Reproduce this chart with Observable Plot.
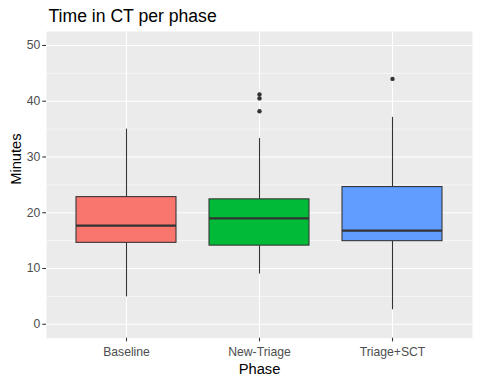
<!DOCTYPE html>
<html>
<head>
<meta charset="utf-8">
<script src="https://cdn.jsdelivr.net/npm/d3@7"></script>
<script src="https://cdn.jsdelivr.net/npm/@observablehq/plot@0.6"></script>
<style>
  html, body { margin: 0; padding: 0; background: #ffffff; }
  #chart { width: 480px; height: 384px; }
</style>
</head>
<body>
<div id="chart"></div>
<script>
const phases = ["Baseline", "New-Triage", "Triage+SCT"];
const colors = ["#F8766D", "#00BA38", "#619CFF"];
const whiskerLow = [4.9, 9.0, 2.6];
const q1 = [14.6, 14.1, 14.9];
const median = [17.7, 19.0, 16.8];
const q3 = [22.8, 22.4, 24.6];
const whiskerHigh = [35.0, 33.3, 37.1];
const outlierPhase = ["New-Triage", "New-Triage", "New-Triage", "Triage+SCT"];
const outlierValue = [38.2, 40.5, 41.2, 44.0];
const yMajor = [0, 10, 20, 30, 40, 50];
const yMinor = [5, 15, 25, 35, 45];

const boxes = phases.map((p, i) => ({
  phase: p, lo: whiskerLow[i], q1: q1[i], med: median[i], q3: q3[i], hi: whiskerHigh[i]
}));
const outliers = outlierPhase.map((p, i) => ({phase: p, value: outlierValue[i]}));

const font = "Arial, 'Liberation Sans', sans-serif";

const chart = Plot.plot({
  width: 480,
  height: 384,
  marginTop: 31,
  marginBottom: 46.3,
  marginLeft: 46,
  marginRight: 8,
  style: {fontFamily: font, fontSize: "12.2px", background: "#ffffff", overflow: "visible"},
  x: {type: "band", domain: phases, paddingInner: 0.25, paddingOuter: 0.225, align: 0.5, axis: null, label: null},
  y: {domain: [-2.5, 52.5], axis: null, label: null},
  color: {domain: phases, range: colors},
  marks: [
    Plot.frame({fill: "#EBEBEB", stroke: null}),
    Plot.ruleY(yMinor, {stroke: "#ffffff", strokeWidth: 0.55}),
    Plot.ruleY(yMajor, {stroke: "#ffffff", strokeWidth: 1.1}),
    Plot.ruleX(phases, {x: d => d, stroke: "#ffffff", strokeWidth: 1.1}),
    Plot.axisY({ticks: yMajor, label: null, tickSize: 3.7, tickPadding: 2.5, stroke: "#333333", strokeWidth: 1.07, fill: "#4D4D4D", fontSize: 12.2}),
    Plot.axisX({label: null, tickSize: 3.7, tickPadding: 5, stroke: "#333333", strokeWidth: 1.07, fill: "#4D4D4D", fontSize: 12.2}),
    Plot.ruleX(boxes, {x: "phase", y1: "lo", y2: "q1", stroke: "#333333", strokeWidth: 1.07}),
    Plot.ruleX(boxes, {x: "phase", y1: "q3", y2: "hi", stroke: "#333333", strokeWidth: 1.07}),
    Plot.barY(boxes, {x: "phase", y1: "q1", y2: "q3", fill: "phase", stroke: "#333333", strokeWidth: 1.07}),
    Plot.tickY(boxes, {x: "phase", y: "med", stroke: "#333333", strokeWidth: 2.2}),
    Plot.dot(outliers, {x: "phase", y: "value", r: 2.2, fill: "#333333", stroke: null}),
    Plot.text(["Time in CT per phase"], {frameAnchor: "top-left", textAnchor: "start", lineAnchor: "bottom", dx: 2, dy: -9.3, fontSize: 17.6, fill: "#000000"}),
    Plot.text(["Phase"], {frameAnchor: "bottom", lineAnchor: "bottom", dy: 35.3, fontSize: 14.7, fill: "#000000"}),
    Plot.text(["Minutes"], {frameAnchor: "left", rotate: -90, lineAnchor: "bottom", dx: -26, fontSize: 14.7, fill: "#000000"})
  ]
});
document.getElementById("chart").appendChild(chart);
</script>
</body>
</html>
